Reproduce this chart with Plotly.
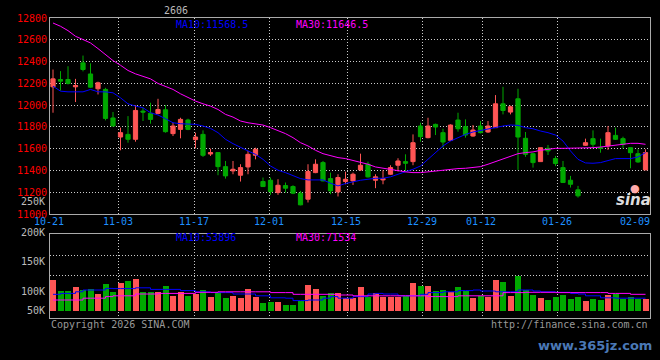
import plotly.graph_objects as go

# ---------------- data ----------------
opens = [12168, 12235, 12235, 12168, 12388, 12286, 12150, 12144, 11882, 11707,
         11731, 11686, 11945, 11924, 11924, 11957, 11738, 11777, 11863, 11683,
         11731, 11551, 11564, 11435, 11396, 11356, 11432, 11539, 11298, 11310,
         11197, 11261, 11252, 11191, 11136, 11380, 11472, 11325, 11203, 11298,
         11304, 11405, 11457, 11310, 11313, 11365, 11448, 11481, 11481, 11808,
         11701, 11823, 11747, 11677, 11863, 11802, 11716, 11808, 11753, 11793,
         12012, 11936, 12058, 11695, 11554, 11481, 11603, 11509, 11426, 11310,
         11222, 11631, 11692, 11609, 11625, 11722, 11692, 11609, 11554, 11405]
highs = [12327, 12312, 12357, 12241, 12455, 12384, 12215, 12159, 11937, 11793,
         11899, 12000, 11976, 12022, 12058, 12000, 11838, 11884, 11875, 11747,
         11768, 11600, 11564, 11487, 11487, 11457, 11579, 11609, 11335, 11335,
         11319, 11289, 11264, 11212, 11457, 11502, 11487, 11380, 11365, 11389,
         11380, 11554, 11481, 11365, 11402, 11448, 11512, 11548, 11731, 11838,
         11884, 11830, 11783, 11823, 11930, 11869, 11817, 11854, 11854, 12092,
         12168, 11995, 12150, 11753, 11560, 11609, 11634, 11533, 11487, 11350,
         11258, 11692, 11768, 11692, 11808, 11793, 11710, 11609, 11594, 11594]
lows = [11930, 12134, 12189, 12028, 12310, 12160, 12098, 11860, 11805, 11585,
        11655, 11664, 11854, 11829, 11915, 11747, 11716, 11695, 11770, 11603,
        11524, 11533, 11356, 11325, 11365, 11298, 11365, 11502, 11250, 11176,
        11176, 11197, 11182, 11080, 11106, 11375, 11300, 11182, 11161, 11273,
        11267, 11395, 11335, 11237, 11273, 11360, 11390, 11390, 11448, 11664,
        11695, 11725, 11609, 11670, 11756, 11701, 11710, 11740, 11745, 11790,
        11915, 11915, 11405, 11525, 11426, 11481, 11542, 11440, 11289, 11243,
        11151, 11625, 11609, 11563, 11588, 11680, 11600, 11420, 11470, 11405]
closes = [12241, 12220, 12199, 12180, 12327, 12165, 12205, 11878, 11808, 11747,
          11686, 11951, 11936, 11869, 11960, 11756, 11808, 11869, 11777, 11707,
          11539, 11564, 11435, 11350, 11411, 11426, 11548, 11594, 11252, 11206,
          11264, 11237, 11191, 11084, 11390, 11457, 11304, 11212, 11335, 11319,
          11365, 11448, 11341, 11341, 11325, 11426, 11487, 11466, 11655, 11710,
          11808, 11799, 11661, 11817, 11783, 11725, 11771, 11747, 11808, 12012,
          11951, 11985, 11707, 11548, 11472, 11609, 11579, 11463, 11289, 11273,
          11167, 11655, 11640, 11603, 11747, 11686, 11640, 11563, 11478, 11564]
ma10 = [12174, 12128, 12122, 12122, 12122, 12144, 12122, 12122, 12113, 12067,
        12012, 11991, 11976, 11930, 11909, 11875, 11838, 11829, 11829, 11823,
        11808, 11786, 11747, 11686, 11646, 11609, 11579, 11548, 11502, 11441,
        11402, 11380, 11350, 11325, 11313, 11313, 11313, 11283, 11258, 11280,
        11298, 11310, 11319, 11328, 11328, 11341, 11365, 11387, 11411, 11441,
        11502, 11564, 11625, 11670, 11701, 11731, 11753, 11768, 11783, 11799,
        11808, 11817, 11814, 11793, 11783, 11762, 11747, 11725, 11670, 11579,
        11502, 11469, 11466, 11472, 11493, 11509, 11509, 11509, 11524, 11564]
ma30 = [12754, 12724, 12684, 12632, 12602, 12571, 12519, 12464, 12409, 12366,
        12318, 12287, 12266, 12241, 12199, 12168, 12144, 12104, 12067, 12037,
        12012, 11991, 11960, 11915, 11890, 11854, 11838, 11829, 11817, 11793,
        11768, 11738, 11701, 11655, 11625, 11585, 11554, 11533, 11518, 11509,
        11493, 11478, 11457, 11432, 11420, 11405, 11396, 11387, 11380, 11380,
        11387, 11396, 11402, 11411, 11417, 11420, 11426, 11435, 11457, 11481,
        11502, 11524, 11554, 11564, 11570, 11585, 11594, 11603, 11603, 11603,
        11603, 11603, 11609, 11615, 11625, 11631, 11640, 11649, 11649, 11640]
volumes = [77.5, 50, 50, 60, 52.5, 54, 42.5, 67.5, 48, 71,
           75, 80, 47.5, 47.5, 47.5, 62.5, 38, 47.5, 38, 43,
           52.5, 36, 47.5, 33, 38, 32.5, 55, 36, 21, 23,
           23, 15, 15, 25, 65, 55, 38, 46, 46, 33,
           33, 60, 36, 44, 36, 36, 36, 38, 70, 62.5,
           62.5, 50, 52.5, 48, 60, 50, 33, 38, 36, 77.5,
           72.5, 38, 88, 52.5, 40, 32, 27.5, 36, 40, 31,
           36, 25, 31, 27.5, 40, 42.5, 31, 36, 31, 31]
vol_ma10 = [41.7, 44, 44, 48, 52.5, 52.5, 52.5, 56.5, 56, 56,
            56, 58, 58, 54, 54, 54, 54, 51, 51, 48,
            48, 46, 46, 46, 42.5, 42.5, 42.5, 38, 38, 33,
            33, 32, 26, 26, 27.5, 27.5, 32, 36, 32, 32,
            36, 36, 42.5, 44, 42.5, 42.5, 38, 38, 38, 41.7,
            46, 46, 48, 48, 51, 51, 52.5, 50, 50, 48,
            48, 48, 52.5, 52.5, 50, 48, 48, 46.7, 46.7, 44,
            42.5, 38, 38, 33, 33, 32, 32, 32, 32, 32]
vol_ma30 = [27.5, 27.5, 27.5, 27.5, 32, 32, 32, 36, 38, 38,
            38, 42.5, 42.5, 42.5, 44, 44, 44, 44, 44, 46.7,
            46.7, 46.7, 48, 48, 48, 48, 48, 48, 48, 46,
            46, 46, 41.7, 41.7, 41.7, 41.7, 41.7, 41.7, 40, 40,
            38, 38, 38, 38, 38, 38, 38, 38, 38, 38,
            36, 36, 36, 36, 38, 38, 38, 38, 38, 38,
            46, 46, 46, 46.7, 46.7, 46.7, 46.7, 46, 46, 46,
            46, 46, 46, 46, 44, 44, 44, 41.7, 41.7, 41.7]

date_labels = ["10-21", "11-03", "11-17", "12-01", "12-15", "12-29", "01-12", "01-26", "02-09"]
date_label_px = [49, 117.5, 193.8, 269.2, 345.5, 421.7, 481.3, 557.3, 634.7]
grid_idx = [8.67, 18.8, 28.93, 39.2, 49.2, 57.2, 67.33]
price_ticks = [11000, 11200, 11400, 11600, 11800, 12000, 12200, 12400, 12600, 12800]
vol_tick_labels = ["200K", "150K", "100K", "50K"]
vol_tick_label_py = [232, 261, 291, 310]

# ---------------- styling ----------------
RED = "#FF5555"
GREEN = "#00A800"
FONT = "DejaVu Sans Mono"
GRID_DASH = "1px,2px"
W, H = 660, 360
L, R, T, B = 50, 10, 18, 42
PH = H - T - B

def px_x(px):
    return (px - L) / (W - L - R)

def px_y(py):
    return (H - B - py) / PH

idx = list(range(len(closes)))
vol_colors = [RED if c >= o else GREEN for o, c in zip(opens, closes)]

fig = go.Figure()
fig.add_trace(go.Candlestick(
    x=idx, open=opens, high=highs, low=lows, close=closes,
    increasing=dict(line=dict(color=RED, width=1), fillcolor=RED),
    decreasing=dict(line=dict(color=GREEN, width=1), fillcolor=GREEN),
    whiskerwidth=0, xaxis="x", yaxis="y", hoverinfo="skip", showlegend=False))
fig.add_trace(go.Scatter(x=idx, y=ma10, mode="lines", line=dict(color="#0000FF", width=1),
                         xaxis="x", yaxis="y", showlegend=False, hoverinfo="skip"))
fig.add_trace(go.Scatter(x=idx, y=ma30, mode="lines", line=dict(color="#FF00FF", width=1),
                         xaxis="x", yaxis="y", showlegend=False, hoverinfo="skip"))
fig.add_trace(go.Bar(x=idx, y=volumes, marker=dict(color=vol_colors, line=dict(width=0)),
                     width=0.8, xaxis="x2", yaxis="y2", showlegend=False, hoverinfo="skip"))
fig.add_trace(go.Scatter(x=idx, y=vol_ma10, mode="lines", line=dict(color="#0000FF", width=1, shape="hv"),
                         xaxis="x2", yaxis="y2", showlegend=False, hoverinfo="skip"))
fig.add_trace(go.Scatter(x=idx, y=vol_ma30, mode="lines", line=dict(color="#FF00FF", width=1, shape="hv"),
                         xaxis="x2", yaxis="y2", showlegend=False, hoverinfo="skip"))

xcommon = dict(range=[-0.4, 79.6], tickvals=grid_idx, showticklabels=False, ticks="",
               showgrid=True, gridcolor="#cccccc", griddash=GRID_DASH, gridwidth=1, automargin=False,
               showline=True, linecolor="#aaaaaa", linewidth=1, mirror=True, zeroline=False)

price_top, price_bot = px_y(18), px_y(214)
vol_top, vol_bot = px_y(234), px_y(318)

fig.update_layout(
    width=W, height=H, autosize=False,
    margin=dict(l=L, r=R, t=T, b=B, pad=0, autoexpand=False),
    paper_bgcolor="black", plot_bgcolor="black",
    boxgap=0.2,
    xaxis=dict(**xcommon, domain=[0, 1], anchor="y", rangeslider=dict(visible=False)),
    xaxis2=dict(**xcommon, domain=[0, 1], anchor="y2", matches="x"),
    yaxis=dict(domain=[price_bot, price_top], range=[11000, 12800], tickvals=price_ticks,
               ticktext=[str(v) for v in price_ticks], automargin=False,
               tickfont=dict(family=FONT, size=10, color="#FF0000"), ticks="",
               showgrid=True, gridcolor="#cccccc", griddash=GRID_DASH, gridwidth=1,
               showline=True, linecolor="#aaaaaa", linewidth=1, mirror=True, zeroline=False),
    yaxis2=dict(domain=[vol_bot, vol_top], range=[-17.5, 192.5], tickvals=[90, 140],
                showticklabels=False, ticks="", automargin=False,
                showgrid=True, gridcolor="#cccccc", griddash=GRID_DASH, gridwidth=1,
                showline=True, linecolor="#aaaaaa", linewidth=1, mirror=True, zeroline=False),
    bargap=0, hovermode=False,
)

ann = []

def text(x, y, s, color, size=10, xanchor="left", family=FONT):
    ann.append(dict(x=px_x(x), y=px_y(y), xref="paper", yref="paper", text=s, showarrow=False,
                    xanchor=xanchor, yanchor="middle", font=dict(family=family, size=size, color=color)))

text(176, 10, "2606", "#bbbbbb", 10, "center")
text(174, 24, "MA10:11568.5", "#0000FF")
text(294, 24, "MA30:11646.5", "#FF00FF")
text(174, 237, "MA10:53896", "#0000FF")
text(294, 237, "MA30:71534", "#FF00FF")
text(47, 201, "250K", "#bbbbbb", 10, "right")
for lab, py in zip(vol_tick_labels, vol_tick_label_py):
    text(47, py, lab, "#bbbbbb", 10, "right")
for lab, px in zip(date_labels, date_label_px):
    text(px, 222, lab, "#1E90FF", 10, "center")
text(49, 324, "Copyright 2026 SINA.COM", "#999999")
text(650, 324, "http://finance.sina.com.cn", "#999999", 10, "right")
text(633, 200, "<b><i>sina</i></b>", "#dddddd", 15, "center", "DejaVu Sans")
text(635, 188, "●", "#ffaaaa", 11, "center", "DejaVu Sans")
text(595, 345, "<b>www.365jz.com</b>", "#4a78b5", 13, "center", "DejaVu Sans")

fig.update_layout(annotations=ann)
fig.write_html("out.html", config={"displayModeBar": False},
               post_script="document.body.style.margin='0';document.body.style.background='black';")
